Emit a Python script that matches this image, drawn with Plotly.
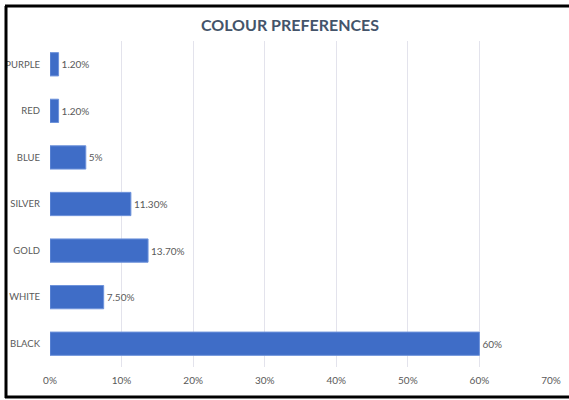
import plotly.graph_objects as go

categories = ["PURPLE", "RED", "BLUE", "SILVER", "GOLD", "WHITE", "BLACK"]
values = [1.2, 1.2, 5, 11.3, 13.7, 7.5, 60]
labels = ["1.20%", "1.20%", "5%", "11.30%", "13.70%", "7.50%", "60%"]
x_ticks = [0, 10, 20, 30, 40, 50, 60, 70]
x_tick_text = ["0%", "10%", "20%", "30%", "40%", "50%", "60%", "70%"]

fig = go.Figure(go.Bar(
    x=values, y=categories, orientation="h",
    text=labels, textposition="outside", cliponaxis=False,
    textfont=dict(size=10, color="#595959", family="Lato"),
    marker=dict(color="#3F6DC7", line=dict(color="#6E93DB", width=1)),
))

L, R, T, B = 50, 18, 41, 33
W, H = 569, 400
pw, ph = W - L - R, H - T - B

def px(x):
    return (x - L) / pw

def py(y):
    return (H - B - y) / ph

fig.update_layout(
    width=W, height=H,
    margin=dict(l=L, r=R, t=T, b=B, autoexpand=False),
    paper_bgcolor="white", plot_bgcolor="white",
    showlegend=False, bargap=0.5,
    font=dict(family="Lato", color="#595959"),
    title=dict(text="<b>COLOUR PREFERENCES</b>", x=290 / W, xref="container",
               xanchor="center", y=1 - 25 / H, yref="container", yanchor="middle",
               font=dict(size=16, color="#44546A", family="Lato")),
    xaxis=dict(range=[0, 70], tickvals=x_ticks, ticktext=x_tick_text,
               showgrid=True, gridcolor="#E3E3EC", gridwidth=1,
               zeroline=False, showline=False, ticks="", automargin=False,
               tickfont=dict(size=10, color="#595959"), ticklabelstandoff=6),
    yaxis=dict(autorange="reversed", showgrid=False, showline=False, ticks="",
               automargin=False,
               tickfont=dict(size=9.5, color="#595959"), ticklabelstandoff=9),
    shapes=[
        dict(type="line", xref="paper", yref="paper", x0=px(6), x1=px(6), y0=py(6), y1=py(398),
             line=dict(color="black", width=3)),
        dict(type="line", xref="paper", yref="paper", x0=px(5), x1=px(575), y0=py(6), y1=py(6),
             line=dict(color="black", width=3)),
        dict(type="line", xref="paper", yref="paper", x0=px(5), x1=px(575), y0=py(397), y1=py(397),
             line=dict(color="black", width=3)),
    ],
)

fig.write_html("out.html", config={"displayModeBar": False},
               post_script="document.body.style.margin='0';document.body.style.overflow='hidden';")
